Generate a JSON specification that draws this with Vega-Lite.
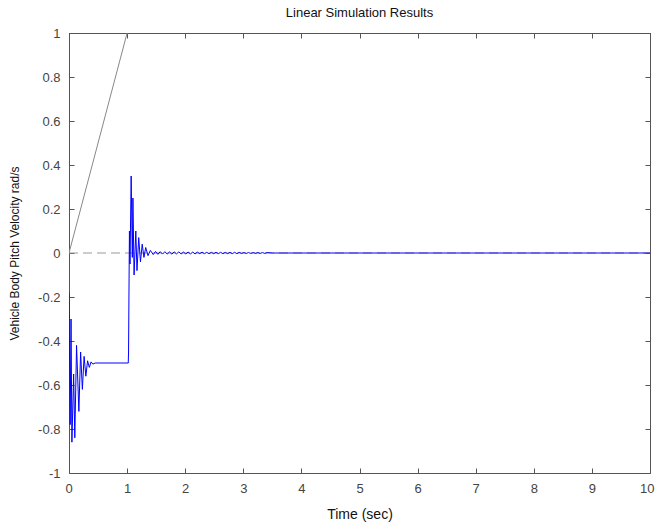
{
  "$schema": "https://vega.github.io/schema/vega-lite/v6.json",
  "autosize": "none",
  "width": 581,
  "height": 440,
  "padding": {"left": 69, "top": 33, "right": 6, "bottom": 54},
  "background": "white",
  "title": {"text": "Linear Simulation Results", "fontSize": 13, "font": "Liberation Sans", "fontWeight": "normal", "color": "#111", "offset": 7},
  "config": {
    "view": {"stroke": null},
    "axis": {"grid": false, "domainColor": "#555", "tickColor": "#555", "labelColor": "#444", "labelFont": "Liberation Sans", "labelFontSize": 13, "titleFont": "Liberation Sans", "titleFontSize": 13, "titleFontWeight": "normal", "titleColor": "#111", "tickSize": -5, "labelPadding": 14}
  },
  "datasets": {
    "resp": [
      {"t": 0.0, "v": -0.18}, {"t": 0.02, "v": -0.78}, {"t": 0.035, "v": -0.3}, {"t": 0.05, "v": -0.86},
      {"t": 0.08, "v": -0.55}, {"t": 0.1, "v": -0.84}, {"t": 0.13, "v": -0.42}, {"t": 0.17, "v": -0.72},
      {"t": 0.2, "v": -0.45}, {"t": 0.23, "v": -0.62}, {"t": 0.26, "v": -0.47}, {"t": 0.29, "v": -0.56},
      {"t": 0.32, "v": -0.49}, {"t": 0.35, "v": -0.52}, {"t": 0.38, "v": -0.495}, {"t": 0.41, "v": -0.505},
      {"t": 0.45, "v": -0.5}, {"t": 1.02, "v": -0.5}, {"t": 1.025, "v": -0.45}, {"t": 1.04, "v": 0.1},
      {"t": 1.05, "v": -0.05}, {"t": 1.07, "v": 0.35}, {"t": 1.09, "v": -0.02}, {"t": 1.1, "v": 0.25},
      {"t": 1.12, "v": -0.1}, {"t": 1.15, "v": 0.1}, {"t": 1.17, "v": -0.08}, {"t": 1.2, "v": 0.07},
      {"t": 1.23, "v": -0.04}, {"t": 1.26, "v": 0.04}, {"t": 1.29, "v": -0.02}, {"t": 1.32, "v": 0.025},
      {"t": 1.36, "v": -0.012}, {"t": 1.4, "v": 0.012}, {"t": 1.45, "v": -0.007}, {"t": 1.49, "v": 0.007},
      {"t": 1.53, "v": -0.006}, {"t": 1.57, "v": 0.006}, {"t": 1.61, "v": -0.005}, {"t": 1.65, "v": 0.006},
      {"t": 1.69, "v": -0.005}, {"t": 1.73, "v": 0.005}, {"t": 1.77, "v": -0.005}, {"t": 1.81, "v": 0.005},
      {"t": 1.85, "v": -0.004}, {"t": 1.89, "v": 0.005}, {"t": 1.93, "v": -0.004}, {"t": 1.97, "v": 0.004},
      {"t": 2.01, "v": -0.004}, {"t": 2.05, "v": 0.004}, {"t": 2.09, "v": -0.004}, {"t": 2.13, "v": 0.004},
      {"t": 2.17, "v": -0.004}, {"t": 2.21, "v": 0.004}, {"t": 2.25, "v": -0.003}, {"t": 2.29, "v": 0.004},
      {"t": 2.33, "v": -0.003}, {"t": 2.37, "v": 0.003}, {"t": 2.41, "v": -0.003}, {"t": 2.45, "v": 0.003},
      {"t": 2.49, "v": -0.003}, {"t": 2.53, "v": 0.003}, {"t": 2.57, "v": -0.003}, {"t": 2.61, "v": 0.003},
      {"t": 2.65, "v": -0.003}, {"t": 2.69, "v": 0.003}, {"t": 2.73, "v": -0.003}, {"t": 2.77, "v": 0.003},
      {"t": 2.81, "v": -0.003}, {"t": 2.85, "v": 0.003}, {"t": 2.89, "v": -0.003}, {"t": 2.93, "v": 0.003},
      {"t": 2.97, "v": -0.002}, {"t": 3.01, "v": 0.002}, {"t": 3.05, "v": -0.002}, {"t": 3.09, "v": 0.002},
      {"t": 3.13, "v": -0.002}, {"t": 3.17, "v": 0.002}, {"t": 3.21, "v": -0.002}, {"t": 3.25, "v": 0.002},
      {"t": 3.29, "v": -0.002}, {"t": 3.33, "v": 0.002}, {"t": 3.37, "v": -0.002}, {"t": 3.41, "v": 0.002},
      {"t": 3.5, "v": 0.0}, {"t": 10.0, "v": 0.0}
    ],
    "ramp": [{"t": 0, "v": 0}, {"t": 1.0, "v": 1.0}],
    "zero": [{"t": 0, "v": 0}, {"t": 10, "v": 0}]
  },
  "layer": [
    {
      "data": {"name": "zero"},
      "mark": {"type": "line", "color": "#999", "strokeWidth": 1, "strokeDash": [9, 5]},
      "encoding": {
        "x": {"field": "t", "type": "quantitative", "scale": {"domain": [0, 10], "nice": false}, "axis": {"orient": "top", "labels": false, "title": null, "values": [0,1,2,3,4,5,6,7,8,9,10]}},
        "y": {"field": "v", "type": "quantitative", "scale": {"domain": [-1, 1], "nice": false}, "axis": {"orient": "right", "labels": false, "title": null, "values": [-1,-0.8,-0.6,-0.4,-0.2,0,0.2,0.4,0.6,0.8,1]}}
      }
    },
    {
      "data": {"name": "ramp"},
      "mark": {"type": "line", "color": "#888", "strokeWidth": 1, "clip": true},
      "encoding": {
        "x": {"field": "t", "type": "quantitative", "axis": null},
        "y": {"field": "v", "type": "quantitative", "axis": null}
      }
    },
    {
      "data": {"name": "resp"},
      "mark": {"type": "line", "color": "#0000ff", "strokeWidth": 1, "clip": true},
      "encoding": {
        "x": {"field": "t", "type": "quantitative", "axis": {"orient": "bottom", "title": "Time (sec)", "titleFontSize": 14, "labelFlush": true, "labelFlushOffset": 4, "values": [0,1,2,3,4,5,6,7,8,9,10], "labelExpr": "'' + datum.value", "titlePadding": 12}},
        "y": {"field": "v", "type": "quantitative", "axis": {"orient": "left", "title": "Vehicle Body Pitch Velocity rad/s", "titleFontSize": 12, "labelFlush": false, "values": [-1,-0.8,-0.6,-0.4,-0.2,0,0.2,0.4,0.6,0.8,1], "labelExpr": "'' + datum.value", "titlePadding": 16}}
      }
    }
  ]
}
